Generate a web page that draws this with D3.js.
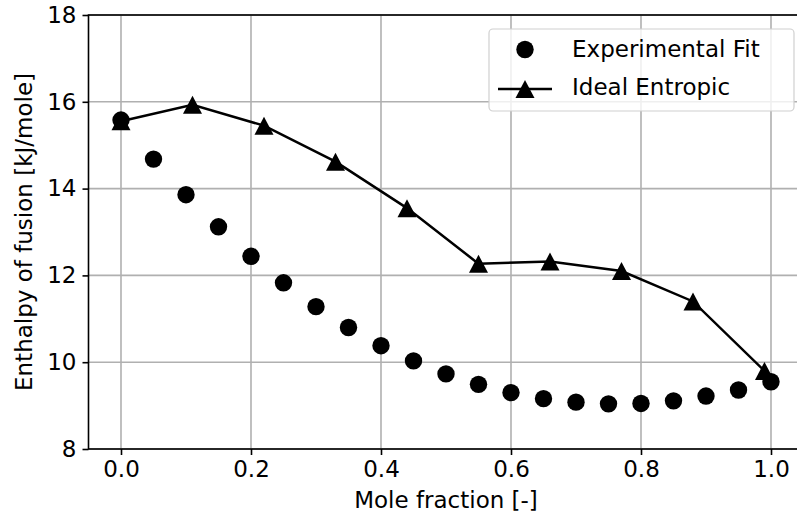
<!DOCTYPE html>
<html><head><meta charset="utf-8">
<script src="https://cdn.jsdelivr.net/npm/d3@7"></script>
<style>body{margin:0;background:#fff}svg{display:block}text{font-family:"DejaVu Sans",sans-serif;fill:#000}</style>
</head><body><svg id="c" width="797" height="520"></svg>
<script>
const expX = [0,0.05,0.1,0.15,0.2,0.25,0.3,0.35,0.4,0.45,0.5,0.55,0.6,0.65,0.7,0.75,0.8,0.85,0.9,0.95,1.0];
const expY = [15.58,14.68,13.86,13.12,12.44,11.83,11.28,10.80,10.38,10.03,9.73,9.49,9.30,9.16,9.08,9.04,9.05,9.11,9.22,9.36,9.55];
const idealX = [0,0.11,0.22,0.33,0.44,0.55,0.66,0.77,0.88,0.99];
const idealY = [15.55,15.93,15.45,14.62,13.55,12.27,12.32,12.10,11.40,9.80];
const xTicks = [0,0.2,0.4,0.6,0.8,1.0];
const yTicks = [8,10,12,14,16,18];
const seriesNames = ["Experimental Fit","Ideal Entropic"];

const svg = d3.select("#c");
const L=88.5, T=15, B=449;
const x = d3.scaleLinear().domain([-0.05,1.05]).range([L, L+715]);
const y = d3.scaleLinear().domain([8,18]).range([B,T]);
const FS=23;

const g = svg.append("g");
g.selectAll(".gx").data(xTicks).enter().append("line")
 .attr("x1",d=>x(d)).attr("x2",d=>x(d)).attr("y1",T).attr("y2",B)
 .attr("stroke","#b0b0b0").attr("stroke-width",1.6);
g.selectAll(".gy").data(yTicks).enter().append("line")
 .attr("x1",L).attr("x2",L+715).attr("y1",d=>y(d)).attr("y2",d=>y(d))
 .attr("stroke","#b0b0b0").attr("stroke-width",1.6);

const xa = svg.append("g").attr("transform",`translate(0,${B})`)
 .call(d3.axisBottom(x).tickValues(xTicks).tickFormat(d3.format(".1f")).tickSize(6).tickPadding(6));
const ya = svg.append("g").attr("transform",`translate(${L},0)`)
 .call(d3.axisLeft(y).tickValues(yTicks).tickFormat(d3.format("d")).tickSize(6).tickPadding(6));
[xa,ya].forEach(a=>{
 a.selectAll("text").style("font-size",FS+"px").style("font-family","DejaVu Sans");
 a.selectAll("line").attr("stroke","#000").attr("stroke-width",1.6);
 a.select(".domain").remove();
});
svg.append("rect").attr("x",L).attr("y",T).attr("width",715).attr("height",B-T)
 .attr("fill","none").attr("stroke","#000").attr("stroke-width",1.6);

const line = d3.line().x(d=>x(d[0])).y(d=>y(d[1]));
const ideal = idealX.map((v,i)=>[v,idealY[i]]);
svg.append("path").datum(ideal).attr("d",line).attr("fill","none").attr("stroke","#000").attr("stroke-width",2.5);

const exp = expX.map((v,i)=>[v,expY[i]]);
svg.selectAll(".ec").data(exp).enter().append("circle")
 .attr("cx",d=>x(d[0])).attr("cy",d=>y(d[1])).attr("r",8.7).attr("fill","#000");

function triPath(cx,cy,w,h){return `M${cx},${cy-h/2}L${cx+w/2},${cy+h/2}L${cx-w/2},${cy+h/2}Z`;}
svg.selectAll(".tr").data(ideal).enter().append("path")
 .attr("d",d=>triPath(x(d[0]),y(d[1]),19,18)).attr("fill","#000");

svg.append("text").attr("x",x(0.5)).attr("y",508).attr("text-anchor","middle")
 .style("font-size",FS+"px").text("Mole fraction [-]");
svg.append("text").attr("transform",`translate(32,${(T+B)/2}) rotate(-90)`).attr("text-anchor","middle")
 .style("font-size",FS+"px").text("Enthalpy of fusion [kJ/mole]");

const lg = svg.append("g");
lg.append("rect").attr("x",489).attr("y",29).attr("width",305).attr("height",82).attr("rx",4)
 .attr("fill","#fff").attr("fill-opacity",0.8).attr("stroke","#d0d0d0").attr("stroke-width",1.2);
lg.append("circle").attr("cx",525).attr("cy",49.5).attr("r",8.7).attr("fill","#000");
lg.append("line").attr("x1",498).attr("x2",552).attr("y1",89).attr("y2",89).attr("stroke","#000").attr("stroke-width",2.5);
lg.append("path").attr("d",triPath(525,89,19,18)).attr("fill","#000");
lg.selectAll(".lt").data(seriesNames).enter().append("text")
 .attr("x",572).attr("y",(d,i)=>57+i*38).style("font-size",FS+"px").text(d=>d);
</script></body></html>
